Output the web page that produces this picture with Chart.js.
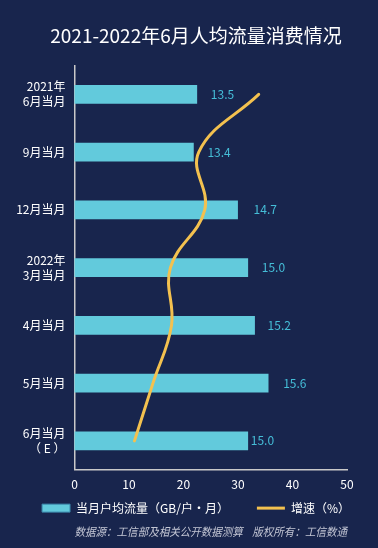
<!DOCTYPE html>
<html>
<head>
<meta charset="utf-8">
<script src="https://cdn.jsdelivr.net/npm/chart.js@4/dist/chart.umd.min.js"></script>
<style>
  html, body { margin: 0; padding: 0; background: #18254d; }
  #wrap { width: 378px; height: 548px; position: relative; }
</style>
</head>
<body>
<div id="wrap"><canvas id="c" width="378" height="548"></canvas></div>
<script>
const titleText = "2021-2022年6月人均流量消费情况";
const categories = [["2021年", "6月当月"], "9月当月", "12月当月", ["2022年", "3月当月"], "4月当月", "5月当月", ["6月当月", "（ E ）"]];
const trafficLabel = "当月户均流量（GB/户·月）";
const trafficValues = [13.5, 13.4, 14.7, 15.0, 15.2, 15.6, 15.0];
const growthLabel = "增速（%）";
const growthValues = [33.8, 22.8, 23.9, 17.6, 17.8, 14.4, 11.0];
const xTickValues = [0, 10, 20, 30, 40, 50];
const footerText = "数据源：工信部及相关公开数据测算    版权所有：工信数通";

const FONT = "'Noto Sans CJK SC', 'Noto Sans', sans-serif";
const BG = '#18254d';
const BAR = '#62cadc';
const LINE = '#f3c14f';
const LABEL_OFFSETS = [14, 14, 16, 14, 13, 15, 3];

const bgPlugin = {
  id: 'bg',
  beforeDraw(chart) {
    const ctx = chart.ctx;
    ctx.save();
    ctx.fillStyle = BG;
    ctx.fillRect(0, 0, chart.width, chart.height);
    ctx.restore();
  }
};

const valueLabels = {
  id: 'valueLabels',
  afterDatasetsDraw(chart) {
    const meta = chart.getDatasetMeta(0);
    const ctx = chart.ctx;
    ctx.save();
    ctx.font = "12px " + FONT;
    ctx.fillStyle = '#45bdd7';
    ctx.textAlign = 'left';
    ctx.textBaseline = 'middle';
    meta.data.forEach((el, i) => {
      ctx.fillText(trafficValues[i].toFixed(1), el.x + LABEL_OFFSETS[i], el.y);
    });
    ctx.restore();
  }
};

new Chart(document.getElementById('c'), {
  type: 'bar',
  data: {
    labels: categories,
    datasets: [
      {
        type: 'bar',
        label: trafficLabel,
        data: trafficValues,
        xAxisID: 'xBar',
        yAxisID: 'y',
        backgroundColor: BAR,
        borderWidth: 0,
        barThickness: 18,
        order: 1
      },
      {
        type: 'line',
        label: growthLabel,
        data: growthValues,
        indexAxis: 'y',
        xAxisID: 'x',
        yAxisID: 'y',
        borderColor: LINE,
        backgroundColor: LINE,
        borderWidth: 3,
        tension: 0.4,
        pointRadius: 0,
        fill: false,
        borderCapStyle: 'round',
        order: 0
      }
    ]
  },
  options: {
    indexAxis: 'y',
    responsive: false,
    animation: false,
    devicePixelRatio: 1,
    layout: { padding: { left: 14, right: 0, top: 0, bottom: 9.2 } },
    scales: {
      x: {
        type: 'linear',
        position: 'bottom',
        min: 0,
        max: 50,
        afterBuildTicks: s => { s.ticks = xTickValues.map(v => ({ value: v })); },
        afterFit: s => { s.height = 22.4; },
        grid: { display: false, drawTicks: false },
        border: { display: true, color: '#c9c9c9', width: 1.5 },
        ticks: { color: '#ffffff', font: { size: 12, family: FONT }, padding: 8, maxRotation: 0, autoSkip: false }
      },
      xBar: {
        type: 'linear',
        position: 'bottom',
        display: false,
        min: 9.9,
        max: 17.92
      },
      y: {
        type: 'category',
        position: 'left',
        offset: true,
        afterFit: s => { s.width = 60.5; },
        grid: { display: false, drawTicks: false },
        border: { display: true, color: '#c9c9c9', width: 1.5 },
        ticks: { color: '#ffffff', font: { size: 12, family: FONT, lineHeight: 1.25 }, padding: 9 }
      },
      yR: {
        type: 'category',
        position: 'right',
        display: true,
        afterFit: s => { s.width = 31; },
        grid: { display: false, drawTicks: false },
        border: { display: false },
        ticks: { display: false }
      }
    },
    plugins: {
      title: {
        display: true,
        text: titleText,
        color: '#ffffff',
        font: { size: 19, family: FONT, weight: 'normal', lineHeight: 1.2 },
        padding: { top: 24, bottom: 18.7 }
      },
      subtitle: {
        display: true,
        position: 'bottom',
        fullSize: false,
        text: footerText,
        color: '#c3c6d4',
        font: { size: 11.4, family: FONT, style: 'italic', lineHeight: 1.2 },
        padding: { top: 1, bottom: 0 }
      },
      legend: {
        display: true,
        position: 'bottom',
        labels: {
          color: '#ffffff',
          font: { size: 12, family: FONT },
          usePointStyle: true,
          pointStyleWidth: 28,
          boxHeight: 8,
          padding: 10,
          sort: (a, b) => a.datasetIndex - b.datasetIndex,
          generateLabels(chart) {
            const items = Chart.defaults.plugins.legend.labels.generateLabels(chart);
            items.forEach(it => {
              if (it.datasetIndex === 0) {
                it.text = it.text + '\u3000\u3000';
                it.pointStyle = 'rect';
                it.fillStyle = BAR;
                it.strokeStyle = '#3a86aa';
                it.lineWidth = 1;
              } else {
                it.pointStyle = 'line';
                it.strokeStyle = LINE;
                it.fillStyle = LINE;
                it.lineWidth = 3;
              }
            });
            return items;
          }
        }
      },
      tooltip: { enabled: false }
    }
  },
  plugins: [bgPlugin, valueLabels]
});
</script>
</body>
</html>
